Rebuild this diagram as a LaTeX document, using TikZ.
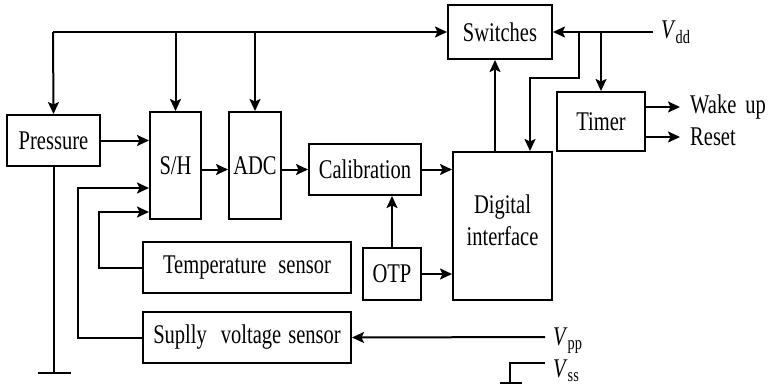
\documentclass[tikz,border=0pt]{standalone}
\usepackage{fontspec}
\setmainfont{Liberation Serif}[FakeStretch=0.76]
\usetikzlibrary{positioning, calc, arrows.meta}

\begin{document}
\begin{tikzpicture}[
        x=1pt, y=-1pt,
        % Style for the blocks of the sensor chip
        block/.style={
            draw,
            line width=2pt,
            inner sep=0pt,
            align=center,
            font=\fontsize{27}{32}\selectfont
        },
        % Style for the pin names and outputs
        lbl/.style={inner sep=0pt, font=\fontsize{27}{30}\selectfont},
        wire/.style={line width=2pt},
        >={Stealth[length=12pt, width=11pt, inset=2.5pt]}
    ]
    \useasboundingbox (0,0) rectangle (773,389);

    % ==========================================
    % BLOCKS
    % ==========================================
    \node[block, minimum width=93pt, minimum height=51pt] (pressure) at (53.5,140.5) {Pressure};
    \node[block, minimum width=51pt, minimum height=107pt] (sh) at (175.5,165.5) {S/H};
    \node[block, minimum width=52pt, minimum height=107pt] (adc) at (255,165.5) {ADC};
    \node[block, minimum width=112pt, minimum height=51pt] (calib) at (365,169.5) {Calibration};
    \node[block, minimum width=208pt, minimum height=51pt] (temp) at (247,267.5) {Temperature\hspace{12pt}sensor};
    \node[block, minimum width=208pt, minimum height=51pt] (supply) at (247,337.5) {Suplly\hspace{14pt}voltage\hspace{7pt}sensor};
    \node[block, minimum width=58pt, minimum height=52pt] (otp) at (392,274) {OTP};
    \node[block, minimum width=99pt, minimum height=148pt, text depth=12pt] (digital) at (502.5,226) {Digital\\interface};
    \node[block, minimum width=104pt, minimum height=54pt] (switches) at (500,32) {Switches};
    \node[block, minimum width=88pt, minimum height=59pt] (timer) at (601,121.5) {Timer};

    % ==========================================
    % PINS AND OUTPUTS
    % ==========================================
    \coordinate (bus) at (53,32);
    \coordinate (vdd) at (653,32);
    \coordinate (vpp) at (545,337);
    \coordinate (vss) at (545,363);
    \node[lbl, right=8pt of vdd] (vdd-lbl) {\textit{V}\textsubscript{dd}};
    \node[lbl, right=8pt of vpp, yshift=-4pt] (vpp-lbl) {\textit{V}\textsubscript{pp}};
    \node[lbl, right=8pt of vss, yshift=-8pt] (vss-lbl) {\textit{V}\textsubscript{ss}};
    \node[lbl, anchor=west] (wake) at (690,107) {Wake\hspace{9pt}up};
    \node[lbl, anchor=west] (reset) at (690,137) {Reset};

    % ==========================================
    % CONNECTIONS
    % ==========================================
    % Supply bus along the top
    \draw[wire, ->] (bus) -- (switches.west);
    \draw[wire, ->] (bus) -- (pressure.north);
    \draw[wire, ->] (sh.north |- bus) -- (sh.north);
    \draw[wire, ->] (adc.north |- bus) -- (adc.north);

    % Signal path
    \draw[wire, ->] (pressure.east) -- (pressure.east -| sh.west);
    \draw[wire, ->] (sh.east |- calib.west) -- (adc.west |- calib.west);
    \draw[wire, ->] (adc.east |- calib.west) -- (calib.west);
    \draw[wire, ->] (calib.east) -- (calib.east -| digital.west);
    \draw[wire, ->] (otp.north) -- (otp.north |- calib.south);
    \draw[wire, ->] (otp.east) -- (otp.east -| digital.west);
    \draw[wire, ->] ([xshift=-7.5pt]digital.north) -- ([xshift=-7.5pt]digital.north |- switches.south);

    % Sensors into S/H
    \draw[wire, ->] (temp.west) -- ++(-43,0) |- ([yshift=-46.5pt]sh.west);
    \draw[wire, ->] (supply.west) -- ++(-64,0) |- ([yshift=-22.5pt]sh.west);

    % Vdd and its branches
    \draw[wire, ->] (vdd) -- (switches.east);
    \draw[wire, ->] ([xshift=26pt]switches.east) -- ++(0,46) -| ([xshift=27.5pt]digital.north);
    \draw[wire, ->] (timer.north |- vdd) -- (timer.north);

    % Timer outputs
    \draw[wire, ->] (timer.east |- wake.west) -- ([xshift=-10pt]wake.west);
    \draw[wire, ->] (timer.east |- reset.west) -- ([xshift=-10pt]reset.west);

    % Vpp into the supply voltage sensor
    \draw[wire, ->] (vpp) -- (supply.east);

    % Ground of the pressure sensor
    \draw[wire] (pressure.south) -- ++(0,206) coordinate (gnd);
    \draw[wire] ([xshift=-16pt]gnd) -- ([xshift=17pt]gnd);

    % Vss symbol
    \draw[wire] (vss) -- ++(-35,0) -- ++(0,20) coordinate (vss-foot);
    \draw[wire] ([xshift=-10pt]vss-foot) -- ([xshift=12pt]vss-foot);

\end{tikzpicture}
\end{document}
